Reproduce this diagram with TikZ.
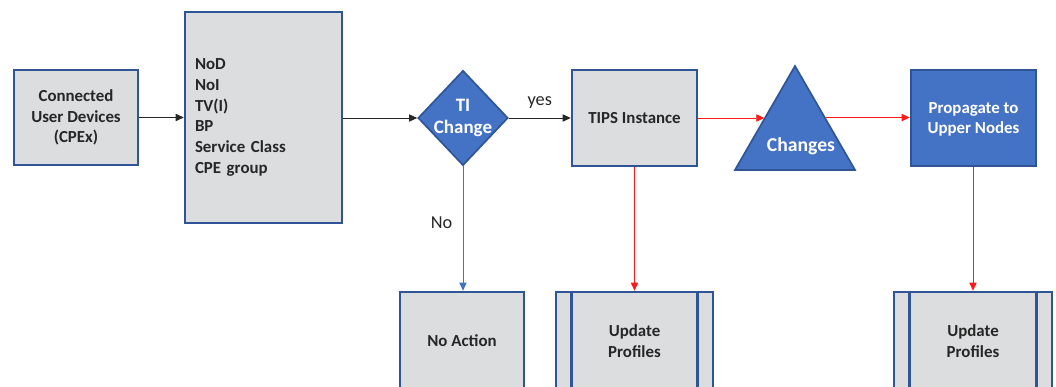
\documentclass[tikz,border=0pt]{standalone}
\usepackage{fontspec}
\setmainfont{Carlito}
\usetikzlibrary{shapes.geometric,arrows.meta}
\definecolor{edgeblue}{HTML}{2F5597}
\definecolor{boxgray}{HTML}{DCDDDF}
\definecolor{fillblue}{HTML}{4472C4}
\definecolor{txtgray}{HTML}{262626}
\definecolor{linered}{HTML}{FF1A1A}
\tikzstyle{graybox} = [rectangle, draw=edgeblue, line width=1.8pt, fill=boxgray, text=txtgray, font=\fontsize{12}{14.8}\selectfont\bfseries, align=center, inner sep=0pt]
\tikzstyle{bluebox} = [graybox, fill=fillblue, text=white]
\tikzstyle{decide} = [diamond, draw=edgeblue, line width=1.2pt, fill=fillblue, text=white, font=\fontsize{13.5}{16}\selectfont\bfseries, align=center, inner sep=-3pt, minimum width=2.25cm, minimum height=2.375cm]
\tikzstyle{tri} = [regular polygon, regular polygon sides=3, draw=edgeblue, line width=1.2pt, fill=fillblue, text=white, font=\fontsize{14}{16}\selectfont\bfseries, minimum size=3.464cm, inner sep=0pt]
\tikzstyle{link} = [line width=0.6pt, -{Triangle[length=2mm, width=1.8mm]}]
\tikzstyle{lbl} = [font=\fontsize{13}{15}\selectfont, text=txtgray]
\newcommand{\sidebars}[1]{\draw[edgeblue, line width=1.8pt] ([xshift=.425cm]#1.north west) -- ([xshift=.425cm]#1.south west) ([xshift=-.425cm]#1.north east) -- ([xshift=-.425cm]#1.south east);}

\begin{document}
\begin{tikzpicture}
	\useasboundingbox (0,0) rectangle (26.4,9.675);
	\clip (0,0) rectangle (26.4,9.675);
	\node [graybox, minimum width=3.1cm, minimum height=2.375cm] (cpe) at (1.9,6.7375) {Connected\\User Devices\\(CPEx)};
	\node [graybox, minimum height=5.275cm, text width=3.425cm, inner xsep=.25cm, align=left] (par) at (6.5875,6.7375) {NoD\\NoI\\TV(I)\\BP\\Service Class\\CPE group};
	\node [decide] (ti) at (11.575,6.725) {TI\\Change};
	\node [graybox, minimum width=3.125cm, minimum height=2.4cm] (tips) at (15.8625,6.725) {TIPS Instance};
	\node [tri] (chg) at (19.875,6.2925) {\makebox[0pt]{\hspace{.3cm}\raisebox{-.4cm}[0pt][0pt]{Changes}}};
	\node [bluebox, minimum width=3.125cm, minimum height=2.4cm, text depth=-.1cm] (prop) at (24.3375,6.725) {Propagate to\\Upper Nodes};
	\node [graybox, minimum width=3.1cm, minimum height=2.45cm] (noact) at (11.55,1.15) {No Action};
	\node [graybox, minimum width=3.925cm, minimum height=2.45cm] (upd1) at (15.8625,1.15) {Update\\Profiles};
	\node [graybox, minimum width=3.95cm, minimum height=2.45cm] (upd2) at (24.325,1.15) {Update\\Profiles};
	\sidebars{upd1}
	\sidebars{upd2}

	\draw [link, txtgray] (cpe) -- (par);
	\draw [link, txtgray] (par.east |- ti.west) -- (ti);
	\draw [link, txtgray] (ti) -- node [lbl, above=3pt] (yes) {yes} (tips);
	\draw [link, linered] (tips.east) -- (tips.east -| chg.side 1);
	\draw [link, linered] (chg.side 3) -- (chg.side 3 -| prop.west);
	\draw [link, fillblue] (ti.south) -- node [lbl, left=4pt, pos=.45] (no) {No} (ti.south |- noact.north);
	\draw [link, linered] (tips) -- (upd1);
	\draw [link, linered] (prop.south -| upd2.north) -- (upd2);
\end{tikzpicture}
\end{document}
